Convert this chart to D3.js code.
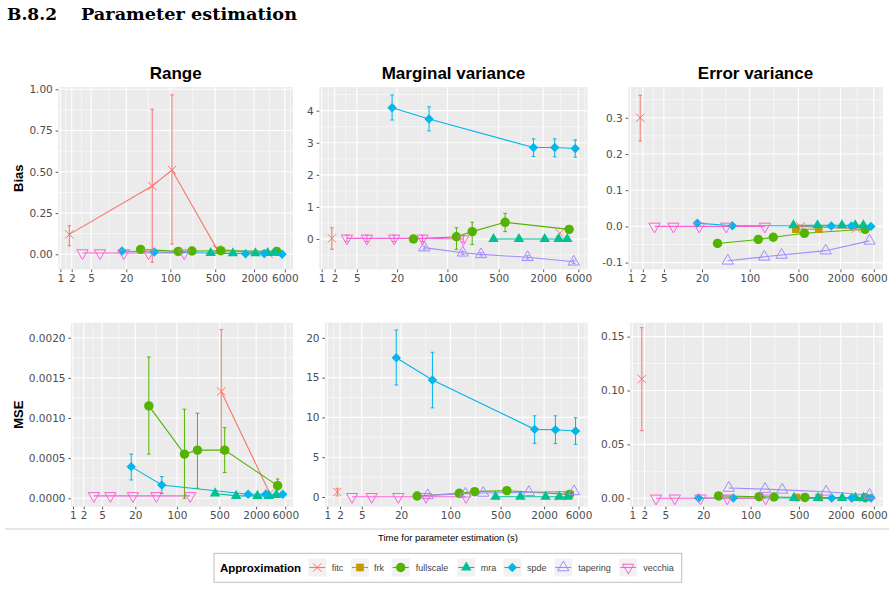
<!DOCTYPE html>
<html><head><meta charset="utf-8">
<script src="https://cdn.jsdelivr.net/npm/d3@7"></script>
<style>body{margin:0;background:#fff}svg{display:block}</style>
</head><body>
<svg id="chart" width="896" height="589"></svg>
<script>
// ---------------- DATA ----------------
const methods = ["fitc","frk","fullscale","mra","spde","tapering","vecchia"];
const methodColors = ["#F8766D","#C49A00","#53B400","#00C094","#00B6EB","#A58AFF","#FB61D7"];
const xBreaks = [1,2,5,20,100,500,2000,6000];
const colTitles = ["Range","Marginal variance","Error variance"];
const rowTitles = ["Bias","MSE"];

// time (s) of each configuration, per method
const fitcTime      = [1.75, 52, 106, 536, 3356];
const frkTime       = [460, 980];
const fullscaleTime = [34, 133, 218, 610, 4500];
const mraTime       = [425, 940, 2100, 3250, 4250];
const spdeTime      = [17, 56, 1480, 2870, 5450];
const taperingTime  = [48, 162, 287, 1230, 5200];
const vecchiaTime   = [3.4, 7.2, 18.2, 45.5, 165];

// values: [estimate, lower, upper] (null = not shown)
const rangeBias = {
  fitc:      [[0.121,0.052,0.173],[0.414,-0.048,0.879],[0.511,0.062,0.966],[0.03,0.018,0.042],[0.004]],
  frk:       [null,null],
  fullscale: [[0.03],[0.018],[0.02],[0.022],[0.018]],
  mra:       [[0.008],[0.006],[0.006],[0.008],[0.01]],
  spde:      [[0.02],[0.014],[0.003],[0.005],[0.0]],
  tapering:  [null,null,null,null,null],
  vecchia:   [[0.008],[0.008],[0.008],[0.008],[0.008]]
};
const mvBias = {
  fitc:      [[0.02,-0.32,0.35],null,null,null,[0.18]],
  frk:       [null,null],
  fullscale: [[0.0],[0.07,-0.32,0.35],[0.23,-0.17,0.52],[0.52,0.23,0.80],[0.30]],
  mra:       [[0.0],[0.0],[0.0],[0.0],[0.0]],
  spde:      [[4.09,3.71,4.49],[3.74,3.37,4.12],[2.85,2.57,3.12],[2.85,2.56,3.12],[2.82,2.55,3.09]],
  tapering:  [[-0.27,-0.32,-0.22],[-0.43,-0.48,-0.38],[-0.48,-0.53,-0.43],[-0.57,-0.62,-0.52],[-0.71,-0.76,-0.66]],
  vecchia:   [[0.02,-0.08,0.12],[0.02,-0.08,0.12],[0.02,-0.08,0.12],[0.02,-0.08,0.12],[0.0,-0.1,0.1]]
};
const evBias = {
  fitc:      [[0.30,0.236,0.362],null,null,[0.0],[-0.006]],
  frk:       [[-0.008],[-0.008]],
  fullscale: [[-0.047],[-0.036],[-0.030],[-0.019],[-0.008]],
  mra:       [[0.003],[0.003],[0.003],[0.003],[0.003]],
  spde:      [[0.009],[0.002],[0.001],[0.001],[0.0]],
  tapering:  [[-0.095],[-0.084],[-0.079],[-0.067],[-0.040]],
  vecchia:   [[0.0],[0.0],[0.0],[0.0],[0.0]]
};
const rangeMSE = {
  fitc:      [null,null,null,[0.00133,0.00057,0.0021],[0.00006]],
  frk:       [null,null],
  fullscale: [[0.00115,0.00055,0.00176],[0.00055,0.0,0.00111],[0.0006,0.000125,0.00106],[0.0006,0.00032,0.00088],[0.000157,0.00006,0.00024]],
  mra:       [[0.00006],[0.00003],[0.00003],[0.00003],[0.00004]],
  spde:      [[0.000394,0.000228,0.00055],[0.000166,0.00006,0.00027],[0.00005],[0.00005],[0.00005]],
  tapering:  [null,null,null,null,null],
  vecchia:   [[0.00003],[0.00003],[0.00003],[0.00003],[0.00003]]
};
const mvMSE = {
  fitc:      [[0.63,0.13,1.09],null,null,null,[0.1]],
  frk:       [null,null],
  fullscale: [[0.12],[0.46],[0.67],[0.80],[0.33]],
  mra:       [[0.03],[0.03],[0.03],[0.03],[0.03]],
  spde:      [[17.5,14.07,20.98],[14.7,11.2,18.18],[8.5,6.75,10.2],[8.45,6.7,10.2],[8.3,6.62,9.96]],
  tapering:  [[0.2],[0.4],[0.5],[0.6],[0.7]],
  vecchia:   [[0.03],[0.03],[0.03],[0.03],[0.03]]
};
const evMSE = {
  fitc:      [[0.1107,0.0627,0.1583],null,null,[0.0004],[0.0002]],
  frk:       [[0.0008],[0.0008]],
  fullscale: [[0.0022],[0.0015],[0.0012],[0.0008],[0.0005]],
  mra:       [[0.0004],[0.0004],[0.0004],[0.0004],[0.0004]],
  spde:      [[0.0003],[0.0003],[0.0003],[0.0003],[0.0003]],
  tapering:  [[0.0095],[0.0085],[0.0078],[0.006],[0.003]],
  vecchia:   [[0.0],[0.0],[0.0],[0.0],[0.0]]
};

const yTicksRangeBias = [0,0.25,0.5,0.75,1];
const yTicksMvBias    = [0,1,2,3,4];
const yTicksEvBias    = [-0.1,0,0.1,0.2,0.3];
const yTicksRangeMSE  = [0,0.0005,0.001,0.0015,0.002];
const yTicksMvMSE     = [0,5,10,15,20];
const yTicksEvMSE     = [0,0.05,0.1,0.15];

// ---------------- LAYOUT ----------------
const times = {fitc:fitcTime, frk:frkTime, fullscale:fullscaleTime, mra:mraTime, spde:spdeTime, tapering:taperingTime, vecchia:vecchiaTime};
const color = d3.scaleOrdinal().domain(methods).range(methodColors);
const xT = t => Math.log10(t + 1);
const xDomT = [0.269, 3.905];

const panels = [
  {data:rangeBias, x0:58.3, x1:293,   y0:87,    y1:269.5, yDom:[-0.092,1.014],     yt:yTicksRangeBias, fmt:".2f", col:0, row:0},
  {data:mvBias,    x0:319.3,x1:587.7, y0:87,    y1:269.5, yDom:[-0.951,4.738],     yt:yTicksMvBias,    fmt:"d",   col:1, row:0},
  {data:evBias,    x0:628.3,x1:882.7, y0:87,    y1:269.5, yDom:[-0.119,0.385],     yt:yTicksEvBias,    fmt:".1f", col:2, row:0},
  {data:rangeMSE,  x0:71,   x1:293,   y0:322.7, y1:506.7, yDom:[-0.000105,0.002187],yt:yTicksRangeMSE, fmt:".4f", col:0, row:1},
  {data:mvMSE,     x0:325,  x1:587.7, y0:322.7, y1:506.7, yDom:[-1.22,21.9],       yt:yTicksMvMSE,     fmt:"d",   col:1, row:1},
  {data:evMSE,     x0:630,  x1:882.7, y0:322.7, y1:506.7, yDom:[-0.0078,0.1629],   yt:yTicksEvMSE,     fmt:".2f", col:2, row:1}
];

const svg = d3.select("#chart");
const FONT = "'Liberation Sans', Arial, sans-serif";
const TICKFONT = "'DejaVu Sans', 'Liberation Sans', sans-serif";

// page title
svg.append("text").attr("x",7).attr("y",19.5)
  .attr("font-family","'DejaVu Serif', 'Liberation Serif', serif").attr("font-weight","bold")
  .attr("font-size",16).attr("textLength",50).attr("lengthAdjust","spacingAndGlyphs").text("B.8.2");
svg.append("text").attr("x",81).attr("y",19.5)
  .attr("font-family","'DejaVu Serif', 'Liberation Serif', serif").attr("font-weight","bold")
  .attr("font-size",16).attr("textLength",216).attr("lengthAdjust","spacingAndGlyphs").text("Parameter estimation");

function minorBreaks(b, lim){
  const bb = b.slice(); const bd = bb[1]-bb[0];
  if (lim[0] < bb[0]) bb.unshift(bb[0]-bd);
  if (lim[1] > bb[bb.length-1]) bb.push(bb[bb.length-1]+bd);
  const m = [];
  for (let i=0;i<bb.length-1;i++) m.push((bb[i]+bb[i+1])/2);
  return m.filter(v => v>lim[0] && v<lim[1]);
}

function symbolFor(method){
  switch(method){
    case "fitc": return {d:"M-4.2,-4.2L4.2,4.2M-4.2,4.2L4.2,-4.2", fill:"none", stroke:true};
    case "frk": return {d:"M-3.8,-3.8h7.6v7.6h-7.6z", fill:true};
    case "fullscale": return {d:d3.symbol(d3.symbolCircle, 70)(), fill:true};
    case "mra": return {d:d3.symbol(d3.symbolTriangle, 48)(), fill:true};
    case "spde": return {d:"M0,-4.7L4.7,0L0,4.7L-4.7,0Z", fill:true};
    case "tapering": return {d:d3.symbol(d3.symbolTriangle, 55)(), fill:"none", stroke:true};
    case "vecchia": return {d:d3.symbol(d3.symbolTriangle, 55)(), fill:"none", stroke:true, rot:180};
  }
}
function drawSymbol(g, method, x, y){
  const s = symbolFor(method); const c = color(method);
  g.append("path").attr("d", s.d)
    .attr("transform", `translate(${x},${y})` + (s.rot ? ` rotate(${s.rot})` : ""))
    .attr("fill", s.fill === true ? c : "none")
    .attr("stroke", s.stroke ? c : "none")
    .attr("stroke-width", s.stroke ? 1 : 0);
}

panels.forEach((p, pi) => {
  const x = d3.scaleLinear().domain(xDomT).range([p.x0, p.x1]);
  const y = d3.scaleLinear().domain(p.yDom).range([p.y1, p.y0]);
  const g = svg.append("g");
  g.append("rect").attr("x",p.x0).attr("y",p.y0).attr("width",p.x1-p.x0).attr("height",p.y1-p.y0).attr("fill","#EBEBEB");
  const xMajT = xBreaks.map(xT);
  minorBreaks(xMajT, xDomT).forEach(v => g.append("line").attr("x1",x(v)).attr("x2",x(v)).attr("y1",p.y0).attr("y2",p.y1).attr("stroke","#fff").attr("stroke-width",0.55));
  minorBreaks(p.yt, p.yDom).forEach(v => g.append("line").attr("x1",p.x0).attr("x2",p.x1).attr("y1",y(v)).attr("y2",y(v)).attr("stroke","#fff").attr("stroke-width",0.55));
  xMajT.forEach(v => g.append("line").attr("x1",x(v)).attr("x2",x(v)).attr("y1",p.y0).attr("y2",p.y1).attr("stroke","#fff").attr("stroke-width",1.1));
  p.yt.forEach(v => g.append("line").attr("x1",p.x0).attr("x2",p.x1).attr("y1",y(v)).attr("y2",y(v)).attr("stroke","#fff").attr("stroke-width",1.1));

  const fmt = d3.format(p.fmt);
  const yAxis = d3.axisLeft(y).tickValues(p.yt).tickSize(2.7).tickPadding(2.8).tickFormat(d => fmt(d).replace("\u2212","-"));
  const ya = g.append("g").attr("transform",`translate(${p.x0},0)`).call(yAxis);
  const xAxis = d3.axisBottom(x).tickValues(xMajT).tickSize(2.7).tickPadding(2).tickFormat((d,i) => xBreaks[i]);
  const xa = g.append("g").attr("transform",`translate(0,${p.y1})`).call(xAxis);
  [ya, xa].forEach(a => {
    a.select(".domain").remove();
    a.selectAll(".tick line").attr("stroke","#333").attr("stroke-width",0.8);
    a.selectAll(".tick text").attr("fill","#4D4D4D").attr("font-family",TICKFONT).attr("font-size",10.5);
  });

  const cid = "clip"+pi;
  svg.append("clipPath").attr("id",cid).append("rect").attr("x",p.x0).attr("y",p.y0).attr("width",p.x1-p.x0).attr("height",p.y1-p.y0);
  const dg = g.append("g").attr("clip-path",`url(#${cid})`);

  const series = methods.map(m => ({m, pts: times[m].map((t,i) => ({t, e: p.data[m][i]}))}));
  const line = d3.line().defined(d => d.e != null).x(d => x(xT(d.t))).y(d => y(d.e[0]));
  series.forEach(s => dg.append("path").attr("d", line(s.pts)).attr("fill","none").attr("stroke",color(s.m)).attr("stroke-width",1.1));
  series.forEach(s => s.pts.forEach(d => {
    if (!d.e || d.e.length < 3) return;
    const cx = x(xT(d.t)), c = color(s.m);
    dg.append("line").attr("x1",cx).attr("x2",cx).attr("y1",y(d.e[1])).attr("y2",y(d.e[2])).attr("stroke",c).attr("stroke-width",1);
    [d.e[1], d.e[2]].forEach(v => dg.append("line").attr("x1",cx-1.8).attr("x2",cx+1.8).attr("y1",y(v)).attr("y2",y(v)).attr("stroke",c).attr("stroke-width",1));
  }));
  series.forEach(s => s.pts.forEach(d => {
    if (!d.e) return;
    drawSymbol(dg, s.m, x(xT(d.t)), y(d.e[0]));
  }));

  if (p.row === 0) {
    g.append("text").attr("x",(p.x0+p.x1)/2).attr("y",78.5).attr("text-anchor","middle")
      .attr("font-family",FONT).attr("font-weight","bold").attr("font-size",17).text(colTitles[p.col]);
  }
  if (p.col === 0) {
    const cy = (p.y0+p.y1)/2;
    g.append("text").attr("transform",`translate(22.5,${cy}) rotate(-90)`).attr("text-anchor","middle")
      .attr("font-family",FONT).attr("font-weight","bold").attr("font-size",13).text(rowTitles[p.row]);
  }
});

svg.append("line").attr("x1",5).attr("x2",889).attr("y1",529).attr("y2",529).attr("stroke","#cfcfcf").attr("stroke-width",1);
svg.append("text").attr("x",448).attr("y",540.5).attr("text-anchor","middle").attr("font-family",FONT).attr("font-size",9.5).attr("fill","#000")
  .text("Time for parameter estimation (s)");

const lg = svg.append("g");
lg.append("rect").attr("x",214).attr("y",553.3).attr("width",467.7).attr("height",29).attr("fill","#fff").attr("stroke","#bdbdbd").attr("stroke-width",1);
lg.append("text").attr("x",220).attr("y",572).attr("font-family",FONT).attr("font-weight","bold").attr("font-size",11.5).text("Approximation");
const keyX = [308.3, 351, 391.7, 457.3, 503.3, 554.3, 619.3];
const labX = [331.7, 374, 415.7, 480.7, 527, 578.3, 643.3];
methods.forEach((m,i) => {
  lg.append("rect").attr("x",keyX[i]).attr("y",558.5).attr("width",18).attr("height",18).attr("fill","#F2F2F2");
  lg.append("line").attr("x1",keyX[i]+1).attr("x2",keyX[i]+17).attr("y1",567.5).attr("y2",567.5).attr("stroke",color(m)).attr("stroke-width",1.1);
  drawSymbol(lg, m, keyX[i]+9, 567.5);
  lg.append("text").attr("x",labX[i]).attr("y",570.5).attr("font-family",FONT).attr("font-size",9).attr("fill","#444").text(m);
});
</script>
</body></html>
